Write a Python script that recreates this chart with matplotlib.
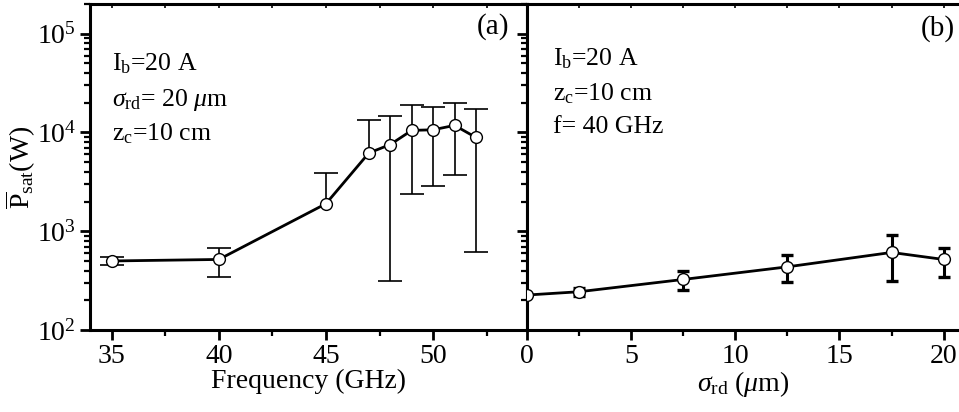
import matplotlib
matplotlib.use("Agg")
import matplotlib.pyplot as plt
from matplotlib.ticker import LogLocator, LogFormatterMathtext, MultipleLocator, NullFormatter
import numpy as np

plt.rcParams['font.family'] = ['Liberation Serif', 'DejaVu Serif']
plt.rcParams['mathtext.fontset'] = 'custom'
plt.rcParams['mathtext.rm'] = 'Liberation Serif'
plt.rcParams['mathtext.it'] = 'Liberation Serif:italic'
plt.rcParams['mathtext.bf'] = 'Liberation Serif:bold'

# Panel (a): saturated power vs frequency (NaN = no lower bar)
freq = [35, 40, 45, 47, 48, 49, 50, 51, 52]
p_freq = [500, 518, 1900, 6200, 7550, 10500, 10650, 11800, 8900]
p_freq_hi = [550, 684, 3880, 13400, 14600, 18800, 18300, 19800, 17200]
p_freq_lo = [450, 345, np.nan, np.nan, 313, 2400, 2870, 3710, 618]

# Panel (b): saturated power vs roughness (NaN = no bar)
sigma = [0, 2.5, 7.5, 12.5, 17.5, 20]
p_sigma = [226, 244, 325, 436, 610, 518]
p_sigma_hi = [np.nan, 268, 397, 572, 912, 684]
p_sigma_lo = [np.nan, 222, 253, 308, 313, 345]

W, H = 959, 412
fig = plt.figure(figsize=(W / 100, H / 100), dpi=100)
bottom, height = 82 / H, 326 / H
ax1 = fig.add_axes([90 / W, bottom, (527 - 90) / W, height])
ax2 = fig.add_axes([527 / W, bottom, (W - 527) / W, height], sharey=ax1)

line_kw = dict(color='black', lw=2.0, marker='o', ms=8.5, mfc='white', mec='black', mew=1.0, zorder=3)


def draw_errors(ax, x, v, lo, hi, lw, capsize, capthick):
    x = np.asarray(x, float)
    v = np.asarray(v, float)
    lo = np.asarray(lo, float)
    hi = np.asarray(hi, float)
    has_hi = ~np.isnan(hi)
    has_lo = ~np.isnan(lo)
    kw = dict(fmt='none', ecolor='black', elinewidth=lw, capsize=capsize,
              capthick=capthick, zorder=2)
    # upper half of each bar
    m = has_hi
    _, caps, _ = ax.errorbar(x[m], v[m], yerr=[np.zeros(m.sum()), hi[m] - v[m]], **kw)
    for c in caps:
        if np.allclose(c.get_ydata(), v[m]):
            c.set_visible(False)
    # lower half of each bar
    m = has_lo
    _, caps, _ = ax.errorbar(x[m], v[m], yerr=[v[m] - lo[m], np.zeros(m.sum())], **kw)
    for c in caps:
        if np.allclose(c.get_ydata(), v[m]):
            c.set_visible(False)


draw_errors(ax1, freq, p_freq, p_freq_lo, p_freq_hi, 1.2, 8.5, 1.2)
ax1.plot(freq, p_freq, **line_kw)

draw_errors(ax2, sigma, p_sigma, p_sigma_lo, p_sigma_hi, 2.2, 4.5, 2.4)
ax2.plot(sigma, p_sigma, **line_kw)

ax1.set_yscale('log')
ax1.set_ylim(100, 2e5)
ax1.set_xlim(33.99, 54.38)
ax2.set_xlim(0, 20.74)

ax1.yaxis.set_major_locator(LogLocator(base=10, numticks=10))
ax1.yaxis.set_major_formatter(LogFormatterMathtext())
ax1.yaxis.set_minor_locator(LogLocator(base=10, subs=np.arange(2, 10), numticks=20))
ax1.yaxis.set_minor_formatter(NullFormatter())

for ax in (ax1, ax2):
    ax.xaxis.set_major_locator(MultipleLocator(5))
    ax.xaxis.set_minor_locator(MultipleLocator(2.5))
    for s in ax.spines.values():
        s.set_linewidth(2.2)
    ax.tick_params(axis='both', which='major', direction='out', length=7, width=2.0,
                   labelsize=20, pad=3)
    ax.tick_params(axis='both', which='minor', direction='out', length=4, width=1.6)
    # short inward ticks along the top edge
    top = ax.secondary_xaxis('top')
    top.xaxis.set_major_locator(MultipleLocator(5))
    top.xaxis.set_minor_locator(MultipleLocator(2.5))
    top.tick_params(which='both', direction='in', length=3, width=1.2, labeltop=False)
    top.spines['top'].set_visible(False)

ax2.spines['right'].set_visible(False)
ax2.tick_params(axis='y', which='both', labelleft=False)
ax1.tick_params(axis='y', which='both', right=False)

ax1.set_xlabel('Frequency (GHz)', fontsize=20)
ax2.set_xlabel(r'$\sigma_{\mathrm{rd}}$ ($\mu$m)', fontsize=20)
ax1.xaxis.set_label_coords(0.5, -0.12)
ax2.xaxis.set_label_coords(0.5, -0.12)
ax1.set_ylabel(r'$\overline{\mathrm{P}}_{\mathrm{sat}}$(W)', fontsize=20)
ax1.yaxis.set_label_coords(-0.118, 0.5)

tkw = dict(fontsize=18.5, va='baseline', ha='left')
ax1.text(0.05, (330 - 70.5) / 326, r'I$_{\mathrm{b}}$=20 A', transform=ax1.transAxes, **tkw)
ax1.text(0.05, (330 - 106) / 326, r'$\sigma_{\mathrm{rd}}$= 20 $\mu$m', transform=ax1.transAxes, **tkw)
ax1.text(0.05, (330 - 140.5) / 326, r'z$_{\mathrm{c}}$=10 cm', transform=ax1.transAxes, **tkw)
ax2.text(0.06, (330 - 65) / 326, r'I$_{\mathrm{b}}$=20 A', transform=ax2.transAxes, **tkw)
ax2.text(0.06, (330 - 100) / 326, r'z$_{\mathrm{c}}$=10 cm', transform=ax2.transAxes, **tkw)
ax2.text(0.06, (330 - 133.3) / 326, 'f= 40 GHz', transform=ax2.transAxes, **tkw)

ax1.text(0.96, (330 - 34) / 326, '(a)', transform=ax1.transAxes, fontsize=21, ha='right', va='baseline')
ax2.text(0.99, (330 - 36) / 326, '(b)', transform=ax2.transAxes, fontsize=21, ha='right', va='baseline')

fig.savefig('out.png', dpi=100)
